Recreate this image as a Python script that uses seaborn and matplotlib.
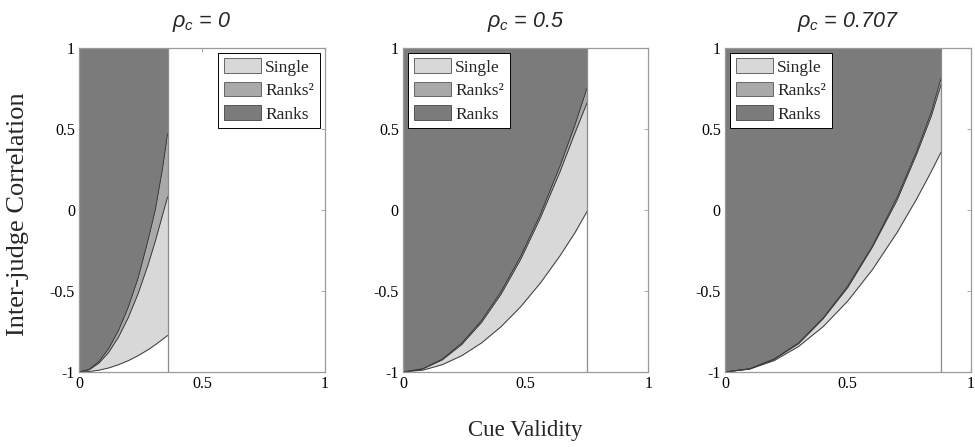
import matplotlib
matplotlib.use("Agg")
import matplotlib.pyplot as plt
from matplotlib.patches import Patch
import pandas as pd
import seaborn as sns

# Correlation between cues for each panel
rho_labels = ["0", "0.5", "0.707"]

# Panel rho_c = 0
validity_a = [0.00, 0.04, 0.08, 0.12, 0.16, 0.20, 0.24, 0.28, 0.31, 0.34, 0.36]
ranks_a = [-1.00, -0.984, -0.936, -0.856, -0.744, -0.60, -0.42, -0.19, 0.00, 0.26, 0.47]
ranks2_a = [-1.00, -0.987, -0.946, -0.879, -0.785, -0.664, -0.516, -0.341, -0.193, -0.029, 0.08]
single_a = [-1.00, -0.997, -0.989, -0.975, -0.955, -0.930, -0.899, -0.863, -0.832, -0.798, -0.775]

# Panel rho_c = 0.5
validity_b = [0.00, 0.08, 0.16, 0.24, 0.32, 0.40, 0.48, 0.56, 0.64, 0.70, 0.75]
ranks_b = [-1.00, -0.980, -0.921, -0.821, -0.683, -0.504, -0.286, -0.028, 0.27, 0.52, 0.75]
ranks2_b = [-1.00, -0.982, -0.926, -0.830, -0.695, -0.520, -0.305, -0.050, 0.235, 0.47, 0.66]
single_b = [-1.00, -0.989, -0.955, -0.899, -0.821, -0.720, -0.597, -0.451, -0.283, -0.143, -0.01]

# Panel rho_c = 0.707
validity_c = [0.00, 0.10, 0.20, 0.30, 0.40, 0.50, 0.60, 0.70, 0.78, 0.84, 0.88]
ranks_c = [-1.00, -0.980, -0.920, -0.820, -0.667, -0.470, -0.226, 0.073, 0.357, 0.60, 0.81]
ranks2_c = [-1.00, -0.981, -0.923, -0.826, -0.672, -0.480, -0.232, 0.055, 0.34, 0.575, 0.77]
single_c = [-1.00, -0.9825, -0.930, -0.8425, -0.720, -0.5625, -0.370, -0.1425, 0.065, 0.235, 0.355]

panels = [
    (validity_a, ranks_a, ranks2_a, single_a),
    (validity_b, ranks_b, ranks2_b, single_b),
    (validity_c, ranks_c, ranks2_c, single_c),
]

DARK = "#7b7b7b"
MID = "#a9a9a9"
LIGHT = "#d8d8d8"
EDGE = "#3a3a3a"
FRAME = "#9a9a9a"

sns.set_theme(style="white")
plt.rcParams["font.family"] = ["Liberation Serif", "DejaVu Serif"]
plt.rcParams["mathtext.fontset"] = "custom"
plt.rcParams["mathtext.it"] = "Liberation Sans:italic"
plt.rcParams["mathtext.rm"] = "Liberation Sans"

fig = plt.figure(figsize=(9.75, 4.47), dpi=100)
lefts = [0.0813, 0.4133, 0.7436]
legend_locs = ["upper right", "upper left", "upper left"]
axes = []

for i, (x, hi, mid, lo) in enumerate(panels):
    ax = fig.add_axes([lefts[i], 0.1678, 0.2518, 0.7259])
    axes.append(ax)
    df = pd.DataFrame({"validity": x, "Ranks": hi, "Ranks2": mid, "Single": lo})

    ax.fill_between(df["validity"], df["Ranks"], 1, color=DARK, linewidth=0)
    ax.fill_between(df["validity"], df["Ranks2"], df["Ranks"], color=MID, linewidth=0)
    ax.fill_between(df["validity"], df["Single"], df["Ranks2"], color=LIGHT, linewidth=0)

    for col in ["Ranks", "Ranks2", "Single"]:
        sns.lineplot(data=df, x="validity", y=col, ax=ax, color=EDGE,
                     linewidth=0.7, sort=False, estimator=None)

    # right-hand boundary of the feasible validity range
    vmax = df["validity"].iloc[-1]
    ax.plot([vmax, vmax], [-1, 1], color="#8c8c8c", linewidth=0.9)

    ax.set_xlim(0, 1)
    ax.set_ylim(-1, 1)
    ax.set_xticks([0, 0.5, 1])
    ax.set_xticklabels(["0", "0.5", "1"])
    ax.set_yticks([-1, -0.5, 0, 0.5, 1])
    ax.set_yticklabels(["-1", "-0.5", "0", "0.5", "1"])
    ax.set_xlabel("")
    ax.set_ylabel("")
    ax.tick_params(direction="in", length=3, width=0.6, color=FRAME,
                   top=True, right=True, labelsize=11.5, labelcolor="black", pad=3)
    for sp in ax.spines.values():
        sp.set_color(FRAME)
        sp.set_linewidth(0.9)

    ax.set_title(r"$\rho_c$ = " + rho_labels[i], fontsize=15.5, fontstyle="italic",
                 family=["Liberation Sans", "DejaVu Sans"], pad=15)

    handles = [
        Patch(facecolor=LIGHT, edgecolor="#666666", linewidth=0.7, label="Single"),
        Patch(facecolor=MID, edgecolor="#666666", linewidth=0.7, label="Ranks²"),
        Patch(facecolor=DARK, edgecolor="#555555", linewidth=0.7, label="Ranks"),
    ]
    leg = ax.legend(handles=handles, loc=legend_locs[i], frameon=True, fancybox=False,
                    framealpha=1, edgecolor="black", fontsize=12.5, handlelength=2.15,
                    handleheight=0.9, borderpad=0.33, labelspacing=0.36,
                    handletextpad=0.22, borderaxespad=0.3)
    leg.get_frame().set_linewidth(0.7)

# shared axis titles: x under the middle panel, y at the far left
axes[1].set_xlabel("Cue Validity", fontsize=16.5, labelpad=20)
fig.text(0.018, 0.521, "Inter-judge Correlation", ha="center", va="center",
         rotation=90, fontsize=19)

fig.savefig("out.png", dpi=100)
